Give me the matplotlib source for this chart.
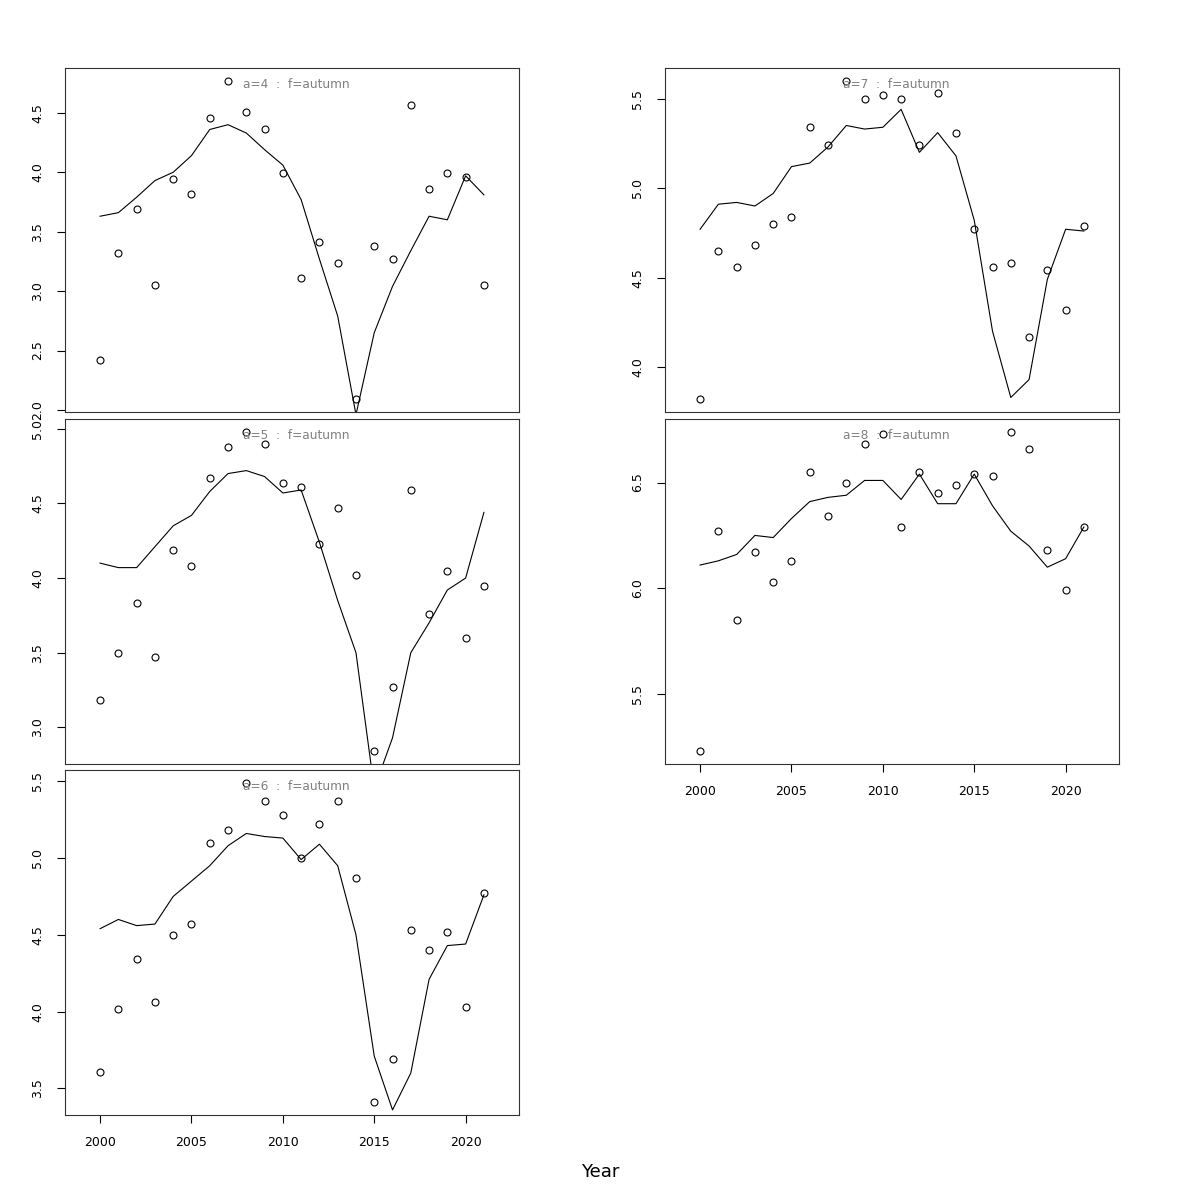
"""Observed vs fitted autumn series per age class, one small panel per age."""

import matplotlib

matplotlib.use("Agg")
import matplotlib.pyplot as plt
import numpy as np

years = np.arange(2000, 2022)

# observed values (circles) and fitted values (line) per age
obs_a4 = [2.42, 3.32, 3.69, 3.05, 3.94, 3.82, 4.46, 4.77, 4.51, 4.36, 3.99,
          3.11, 3.41, 3.24, 2.09, 3.38, 3.27, 4.57, 3.86, 3.99, 3.96, 3.05]
fit_a4 = [3.63, 3.66, 3.79, 3.93, 4.00, 4.14, 4.36, 4.40, 4.33, 4.19, 4.06,
          3.77, 3.27, 2.79, 1.96, 2.65, 3.04, 3.34, 3.63, 3.60, 3.97, 3.81]

obs_a5 = [3.18, 3.50, 3.83, 3.47, 4.19, 4.08, 4.67, 4.88, 4.98, 4.90, 4.64,
          4.61, 4.23, 4.47, 4.02, 2.84, 3.27, 4.59, 3.76, 4.05, 3.60, 3.95]
fit_a5 = [4.10, 4.07, 4.07, 4.21, 4.35, 4.42, 4.58, 4.70, 4.72, 4.68, 4.57,
          4.59, 4.24, 3.85, 3.50, 2.59, 2.93, 3.50, 3.70, 3.92, 4.00, 4.44]

obs_a6 = [3.61, 4.02, 4.34, 4.06, 4.50, 4.57, 5.10, 5.18, 5.49, 5.37, 5.28,
          5.00, 5.22, 5.37, 4.87, 3.41, 3.69, 4.53, 4.40, 4.52, 4.03, 4.77]
fit_a6 = [4.54, 4.60, 4.56, 4.57, 4.75, 4.85, 4.95, 5.08, 5.16, 5.14, 5.13,
          4.99, 5.09, 4.95, 4.50, 3.71, 3.36, 3.60, 4.21, 4.43, 4.44, 4.76]

obs_a7 = [3.82, 4.65, 4.56, 4.68, 4.80, 4.84, 5.34, 5.24, 5.60, 5.50, 5.52,
          5.50, 5.24, 5.53, 5.31, 4.77, 4.56, 4.58, 4.17, 4.54, 4.32, 4.79]
fit_a7 = [4.77, 4.91, 4.92, 4.90, 4.97, 5.12, 5.14, 5.23, 5.35, 5.33, 5.34,
          5.44, 5.20, 5.31, 5.18, 4.82, 4.20, 3.83, 3.93, 4.49, 4.77, 4.76]

obs_a8 = [5.23, 6.27, 5.85, 6.17, 6.03, 6.13, 6.55, 6.34, 6.50, 6.68, 6.73,
          6.29, 6.55, 6.45, 6.49, 6.54, 6.53, 6.74, 6.66, 6.18, 5.99, 6.29]
fit_a8 = [6.11, 6.13, 6.16, 6.25, 6.24, 6.33, 6.41, 6.43, 6.44, 6.51, 6.51,
          6.42, 6.54, 6.40, 6.40, 6.54, 6.39, 6.27, 6.20, 6.10, 6.14, 6.29]

ages = [4, 5, 6, 7, 8]
observed = [obs_a4, obs_a5, obs_a6, obs_a7, obs_a8]
fitted = [fit_a4, fit_a5, fit_a6, fit_a7, fit_a8]
year_ticks = [2000, 2005, 2010, 2015, 2020]

# panel boxes in figure fractions: left, bottom, width, height
left_x, right_x, width = 65 / 1200, 665 / 1200, 454 / 1200
rows = [(1 - 412 / 1200, 344 / 1200),
        (1 - 764 / 1200, 345 / 1200),
        (1 - 1115 / 1200, 345 / 1200)]
boxes = [
    (left_x, rows[0][0], width, rows[0][1]),
    (left_x, rows[1][0], width, rows[1][1]),
    (left_x, rows[2][0], width, rows[2][1]),
    (right_x, rows[0][0], width, rows[0][1]),
    (right_x, rows[1][0], width, rows[1][1]),
]
with_xaxis = [False, False, True, False, True]

fig = plt.figure(figsize=(12, 12), dpi=100)

for age, obs, fit, box, show_x in zip(ages, observed, fitted, boxes, with_xaxis):
    ax = fig.add_axes(box)
    obs = np.asarray(obs)

    ax.plot(years, fit, color="black", linewidth=0.8)
    ax.plot(years, obs, "o", markersize=5, markerfacecolor="none",
            markeredgecolor="black", markeredgewidth=0.8)

    # R-style limits: range extended by 4% on each side
    lo, hi = obs.min(), obs.max()
    pad = 0.04 * (hi - lo)
    ax.set_ylim(lo - pad, hi + pad)
    ax.set_xlim(1998.08, 2022.92)

    ax.yaxis.set_major_locator(plt.MultipleLocator(0.5))
    ax.yaxis.set_major_formatter(plt.FormatStrFormatter("%.1f"))
    for lab in ax.get_yticklabels():
        lab.set_rotation(90)
        lab.set_va("center")
    ax.tick_params(axis="y", direction="out", length=6, width=0.8,
                   labelsize=9, pad=9)

    if show_x:
        ax.set_xticks(year_ticks)
        ax.tick_params(axis="x", direction="out", length=6, width=0.8,
                       labelsize=9, pad=9)
    else:
        ax.set_xticks([])

    for spine in ax.spines.values():
        spine.set_linewidth(0.8)
        spine.set_color("#333333")

    ax.text(0.509, 0.953, f"a={age}  :  f=autumn", transform=ax.transAxes,
            ha="center", va="center", fontsize=8.7, color="#808080")

fig.text(0.5, 1 - 1172 / 1200, "Year", ha="center", va="center", fontsize=13)

fig.savefig("out.png", dpi=100)
